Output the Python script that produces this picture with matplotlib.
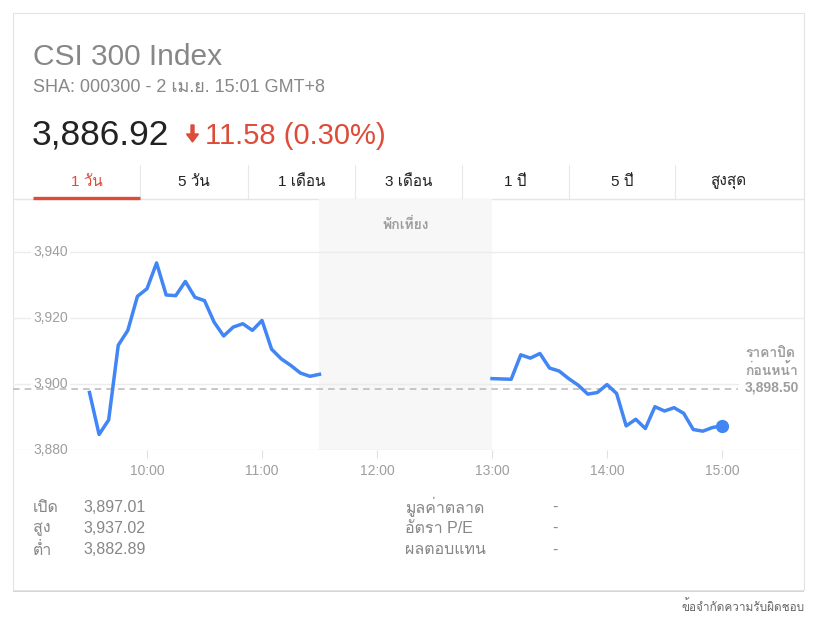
import matplotlib
matplotlib.use('Agg')
import matplotlib.pyplot as plt
from matplotlib import font_manager
from matplotlib.ft2font import FT2Font
from matplotlib.patches import Rectangle, FancyArrow

# ข้อมูลกราฟ (ดัชนี CSI 300 วันที่ 2 เม.ย.)
morning_times = ['09:30', '09:35', '09:40', '09:45', '09:50', '09:55', '10:00', '10:05',
                 '10:10', '10:15', '10:20', '10:25', '10:30', '10:35', '10:40', '10:45',
                 '10:50', '10:55', '11:00', '11:05', '11:10', '11:15', '11:20', '11:25', '11:30']
morning_prices = [3897.4, 3884.7, 3889.1, 3911.7, 3916.2, 3926.5, 3928.8, 3936.6,
                  3926.9, 3926.7, 3931.0, 3926.2, 3925.2, 3918.7, 3914.5, 3917.2,
                  3918.2, 3916.2, 3919.2, 3910.5, 3907.6, 3905.6, 3903.3, 3902.3, 3902.9]
afternoon_times = ['13:00', '13:05', '13:10', '13:15', '13:20', '13:25', '13:30', '13:35',
                   '13:40', '13:45', '13:50', '13:55', '14:00', '14:05', '14:10', '14:15',
                   '14:20', '14:25', '14:30', '14:35', '14:40', '14:45', '14:50', '14:55', '15:00']
afternoon_prices = [3901.6, 3901.5, 3901.4, 3908.8, 3907.8, 3909.2, 3904.8, 3903.9,
                    3901.6, 3899.6, 3896.9, 3897.4, 3899.8, 3897.1, 3887.3, 3889.3,
                    3886.5, 3893.1, 3891.8, 3892.8, 3891.1, 3886.2, 3885.7, 3886.8, 3887.3]
prev_close = 3898.50
lunch_break = ['11:30', '13:00']
y_ticks = [3880, 3900, 3920, 3940]
x_tick_labels = ['10:00', '11:00', '12:00', '13:00', '14:00', '15:00']
tabs = ['1 วัน', '5 วัน', '1 เดือน', '3 เดือน', '1 ปี', '5 ปี', 'สูงสุด']
stats_left = [('เปิด', '3,897.01'), ('สูง', '3,937.02'), ('ต่ำ', '3,882.89')]
stats_right = [('มูลค่าตลาด', '-'), ('อัตรา P/E', '-'), ('ผลตอบแทน', '-')]


def to_min(t):
    h, m = t.split(':')
    return int(h) * 60 + int(m)


# หาฟอนต์ที่มีอักษรไทย
def find_thai_font():
    for f in font_manager.fontManager.ttflist:
        try:
            if 0x0E27 in FT2Font(f.fname).get_charmap():
                return f.name
        except Exception:
            pass
    return 'DejaVu Sans'


thai = find_thai_font()
plt.rcParams['font.family'] = ['Liberation Sans', thai, 'DejaVu Sans']

BLUE = '#4285f4'
RED = '#dd4b39'
GRAY = '#878787'
LIGHT = '#9e9e9e'

W, H = 820, 621
fig = plt.figure(figsize=(W / 100, H / 100), dpi=100)

# พื้นหลังแบบพิกเซล
bg = fig.add_axes([0, 0, 1, 1])
bg.set_xlim(0, W)
bg.set_ylim(H, 0)
bg.axis('off')

# การ์ด
bg.add_patch(Rectangle((13, 14), 791, 578, facecolor='#d6d6d6', edgecolor='none', zorder=0))
bg.add_patch(Rectangle((13, 13), 791, 577, facecolor='white', edgecolor='#e3e3e3', lw=0.8, zorder=1))

# หัวเรื่อง
bg.text(33, 57, 'CSI 300 Index', fontsize=21.5, color=GRAY, va='center', ha='left')
bg.text(33, 87, 'SHA: 000300 - 2 เม.ย. 15:01 GMT+8', fontsize=13, color=GRAY, va='center')
bg.text(32, 135, '3,886.92', fontsize=25.5, color='#222222', va='center')
bg.add_patch(FancyArrow(192.5, 125, 0, 17, width=3, head_width=12, head_length=8,
                        length_includes_head=True, color=RED, zorder=3))
bg.text(205, 136, '11.58 (0.30%)', fontsize=21, color=RED, va='center')

# แท็บ
tab_edges = [33, 140, 248, 355, 462, 569, 675, 782]
for i, label in enumerate(tabs):
    cx = (tab_edges[i] + tab_edges[i + 1]) / 2
    bg.text(cx, 182, label, fontsize=11, color=RED if i == 0 else '#222222',
            ha='center', va='center')
for xe in tab_edges[1:-1]:
    bg.plot([xe, xe], [165, 198], color='#e8e8e8', lw=0.8)
bg.plot([13, 804], [199, 199], color='#e5e5e5', lw=1)
bg.plot([33, 140], [197.5, 197.5], color=RED, lw=2.4, solid_capstyle='butt')

# สถิติ
for i, (k, v) in enumerate(stats_left):
    y = 507 + i * 21.5
    bg.text(33, y, k, fontsize=11.5, color=GRAY, va='center')
    bg.text(83, y, v, fontsize=11.5, color=GRAY, va='center')
for i, (k, v) in enumerate(stats_right):
    y = 507 + i * 21.5
    bg.text(405, y, k, fontsize=11.5, color=GRAY, va='center')
    bg.text(552, y, v, fontsize=11.5, color=GRAY, va='center')

bg.text(805, 607, 'ข้อจำกัดความรับผิดชอบ', fontsize=8.5, color='#666666', ha='right', va='center')

# ป้ายราคาปิดก่อนหน้า (พื้นขาวบังเส้นกริด)
for j, line in enumerate(['ราคาปิด', 'ก่อนหน้า', f'{prev_close:,.2f}']):
    bg.text(745, 353 + j * 17.5, line, fontsize=10, color=LIGHT, fontweight='bold',
            ha='left', va='center', zorder=6,
            bbox=dict(facecolor='white', edgecolor='none', pad=2))

# กราฟราคา
x0, x1 = 13, 804
ytop, ybot = 199, 450
ax = fig.add_axes([x0 / W, 1 - ybot / H, (x1 - x0) / W, (ybot - ytop) / H])
ax.patch.set_alpha(0)
ax.set_zorder(0.5)
bg.set_zorder(0)
px_per_min = 115 / 60
ax.set_xlim(600 - (147 - x0) / px_per_min, 600 + (x1 - 147) / px_per_min)
ax.set_ylim(3880, 3880 + (ybot - ytop) / 3.305)
for s in ax.spines.values():
    s.set_visible(False)

ax.axvspan(to_min(lunch_break[0]), to_min(lunch_break[1]), color='#f7f7f7', zorder=0, lw=0)
ax.text((to_min(lunch_break[0]) + to_min(lunch_break[1])) / 2, 3880 + (ybot - 225) / 3.305,
        'พักเที่ยง', fontsize=10, color=LIGHT, fontweight='bold', ha='center', va='center')

end_x = to_min('15:00') + (738 - 722) / px_per_min
for yv in y_ticks:
    # เส้น 3,900 หยุดก่อนป้ายราคาปิด
    xe = end_x if abs(yv - prev_close) < 5 else ax.get_xlim()[1]
    ax.plot([ax.get_xlim()[0], xe], [yv, yv], color='#ececec', lw=1, zorder=1)
    ax.text(20 / (x1 - x0), yv, f'{yv:,}', transform=ax.get_yaxis_transform(),
            fontsize=10, color=LIGHT, va='center', ha='left', zorder=2,
            bbox=dict(facecolor='white', edgecolor='none', pad=1.5))
ax.set_yticks([])

ax.plot([ax.get_xlim()[0], end_x], [prev_close, prev_close],
        color='#bdbdbd', lw=1.2, dashes=(4, 3), zorder=2)

ax.plot([to_min(t) for t in morning_times], morning_prices, color=BLUE, lw=2.5, zorder=4)
ax.plot([to_min(t) for t in afternoon_times], afternoon_prices, color=BLUE, lw=2.5, zorder=4)
ax.plot(to_min(afternoon_times[-1]), afternoon_prices[-1], 'o', color=BLUE, ms=8.5, zorder=5)

ax.set_xticks([to_min(t) for t in x_tick_labels])
ax.set_xticklabels(x_tick_labels)
ax.tick_params(axis='x', length=6, color='#e0e0e0', labelcolor=LIGHT, labelsize=10, pad=4)

fig.savefig('out.png', dpi=100)
